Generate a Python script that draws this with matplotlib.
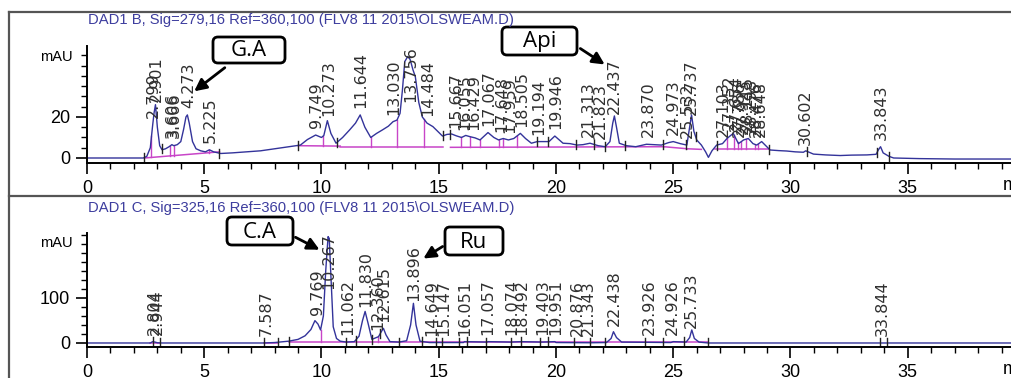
import numpy as np
import matplotlib.pyplot as plt
from matplotlib.patches import FancyBboxPatch, FancyArrowPatch
from matplotlib.lines import Line2D
from matplotlib.transforms import Affine2D

# ---- data ----
# top signal (DAD1 B, 279 nm): time (min), mAU
top_trace = np.array([
    [0, 0], [2.40, 0], [2.55, 0.8], [2.70, 5], [2.80, 16], [2.86, 22], [2.92, 26], [3.00, 15],
    [3.10, 6], [3.20, 4], [3.35, 4.5], [3.50, 5.5], [3.62, 6.5], [3.70, 6], [3.85, 6.5], [4.00, 8],
    [4.12, 14], [4.22, 20], [4.28, 21], [4.36, 17], [4.50, 8], [4.65, 4.5], [4.85, 3.5], [5.05, 3],
    [5.22, 4], [5.40, 3], [5.70, 2.2], [6.20, 2.5], [6.80, 3], [7.40, 3.5], [8.00, 4.5], [8.60, 5.5],
    [9.10, 6.3], [9.40, 9], [9.75, 11.2], [10.00, 10], [10.10, 11], [10.25, 18.2], [10.40, 12],
    [10.62, 7.2], [10.90, 10], [11.20, 13.7], [11.45, 17], [11.65, 21], [11.85, 15], [12.10, 10],
    [12.35, 12], [12.60, 13.7], [12.85, 15.5], [13.05, 17.7], [13.22, 18.5], [13.35, 21.8],
    [13.45, 33], [13.55, 47], [13.68, 49.5], [13.78, 48], [13.90, 43], [14.00, 39.7], [14.15, 27],
    [14.30, 20], [14.50, 17], [14.75, 15.3], [15.00, 12.5], [15.16, 10.7], [15.35, 11.5],
    [15.55, 11.7], [15.75, 10.8], [15.97, 10], [16.15, 11], [16.33, 10.4], [16.55, 9.8],
    [16.76, 8.8], [17.10, 12.4], [17.35, 10], [17.55, 8.8], [17.75, 9.5], [17.97, 8.8],
    [18.20, 9.5], [18.48, 12], [18.70, 9.5], [18.95, 7.2], [19.20, 8], [19.46, 8], [19.70, 8],
    [19.95, 10.7], [20.30, 7.2], [20.60, 7], [20.90, 6.3], [21.15, 6.5], [21.45, 7.2], [21.80, 6],
    [22.10, 5.5], [22.30, 8], [22.42, 17], [22.49, 20.5], [22.58, 15], [22.70, 7.2], [23.00, 6],
    [23.40, 5.5], [23.86, 6.7], [24.20, 6.5], [24.50, 6.3], [24.80, 7.5], [25.00, 8], [25.30, 7],
    [25.58, 6.3], [25.70, 15], [25.78, 21], [25.88, 13], [26.00, 8.8], [26.20, 6.3], [26.38, 3],
    [26.50, 0.3], [26.65, 3.5], [26.85, 6.3], [27.10, 7], [27.30, 9.6], [27.56, 12], [27.78, 7],
    [28.00, 8.8], [28.20, 9.5], [28.40, 7], [28.56, 6.3], [28.77, 8], [29.13, 3.9], [29.50, 3.6],
    [29.84, 3.4], [30.20, 3], [30.55, 2.8], [30.65, 3.5], [30.98, 1.9], [31.50, 1.5], [32.12, 1.2],
    [32.60, 1.4], [33.26, 1.5], [33.65, 1.8], [33.75, 4], [33.84, 5.5], [33.95, 2.5], [34.20, 0.8],
    [34.40, 0], [35.50, -0.3], [37.00, -0.5], [39.50, -0.5]])

# bottom signal (DAD1 C, 325 nm)
bot_trace = np.array([
    [0, 0], [2.70, 0], [2.80, 3], [2.90, 2], [3.00, 0.5], [3.20, 0], [7.50, 0], [8.00, 1],
    [8.60, 4], [9.00, 8], [9.30, 16], [9.55, 30], [9.72, 49.6], [9.85, 42], [9.96, 29], [10.08, 60],
    [10.18, 160], [10.28, 236], [10.33, 232], [10.40, 150], [10.50, 36], [10.64, 10], [10.80, 4],
    [11.06, 2], [11.40, 3], [11.60, 15], [11.75, 50], [11.86, 70], [11.98, 45], [12.15, 8],
    [12.43, 14], [12.55, 25], [12.64, 32.6], [12.75, 18], [12.92, 3], [13.30, 2], [13.63, 5],
    [13.80, 40], [13.92, 88], [14.03, 40], [14.20, 4], [14.60, 1], [16.05, 1], [16.10, 3],
    [17.06, 2], [17.10, 3], [18.07, 2], [18.50, 3], [19.40, 2], [19.95, 3], [20.00, 1],
    [21.50, 0.5], [22.15, 1], [22.35, 10], [22.45, 25], [22.58, 12], [22.80, 2], [24.90, 1],
    [25.00, 3], [25.55, 2], [25.70, 12], [25.79, 29], [25.90, 10], [26.10, 2], [26.50, 0],
    [39.50, 0]])

top_labels = ['2.799', '2.901', '3.606', '3.666', '4.273', '5.225', '9.749', '10.273', '11.644',
              '13.030', '13.756', '14.484', '15.667', '16.055', '16.429', '17.067', '17.648',
              '17.959', '18.505', '19.194', '19.946', '21.313', '21.823', '22.437', '23.870',
              '24.973', '25.532', '25.737', '27.103', '27.352', '27.654', '27.786', '27.923',
              '28.115', '28.298', '28.476', '28.648', '30.602', '33.843']
bot_labels = ['2.804', '2.944', '7.587', '9.769', '10.267', '11.062', '11.830', '12.360', '12.615',
              '13.896', '14.649', '15.147', '16.051', '17.057', '18.074', '18.492', '19.403',
              '19.951', '20.876', '21.343', '22.438', '23.926', '24.926', '25.733', '33.844']

# integration baselines, drop lines and event marks
top_base = [[(2.45, 0), (5.65, 3.0)], [(9.0, 6.0), (10.8, 5.8)], [(10.8, 5.2), (15.2, 5.2)],
            [(15.5, 5.2), (24.6, 5.5)], [(24.6, 5.5), (25.6, 4.5)], [(25.6, 4.5), (26.2, 4.2)],
            [(26.8, 4.2), (29.1, 4.2)]]
top_drops = [2.75, 3.55, 3.70, 5.22, 10.05, 12.10, 13.22, 14.36, 15.97, 16.33, 16.76, 17.55,
             17.76, 18.33, 27.30, 27.60, 27.75, 27.90, 28.10, 28.50, 28.62]
top_events = [2.45, 3.18, 5.65, 9.0, 10.64, 15.20, 15.50, 19.20, 19.65, 20.85, 21.60, 22.10,
              22.95, 24.55, 25.55, 25.95, 26.85, 29.10, 30.70, 33.70, 34.20]
bot_base = [[(2.70, 0.5), (3.10, 0.5)], [(7.55, 0.5), (8.15, 0.5)], [(8.6, 3.0), (26.5, 3.0)]]
bot_drops = [9.96, 12.43]
bot_events = [2.80, 3.10, 7.55, 8.15, 8.60, 11.06, 11.45, 12.15, 12.50, 13.30, 14.30, 14.90, 15.15,
              15.85, 16.20, 17.00, 18.10, 18.50, 19.30, 19.65, 20.75, 21.45, 22.10, 23.80, 24.55,
              25.45, 26.50, 33.80, 34.10]

x_major = [0, 5, 10, 15, 20, 25, 30, 35]
top_yticks = [0, 20]
bot_yticks = [0, 100]

W, H = 1011, 378
narrow = ['Liberation Sans', 'DejaVu Sans']
trace_col = '#33339a'
pink = '#c845c8'

fig = plt.figure(figsize=(W / 100, H / 100), dpi=100)
px = Affine2D().scale(1.0 / W, -1.0 / H).translate(0, 1) + fig.transFigure

# panel frames
for xs, ys in [([9, W], [12, 12]), ([9, 9], [12, H]), ([9, W], [196, 196])]:
    fig.add_artist(Line2D(xs, ys, transform=px, color='#555555', lw=1.6))


def panel(ax_px, trace, labels, base, drops, events, ylim, yticks, yminor, title, title_y, mau_y, scale):
    left, bottom, top = ax_px
    ax = fig.add_axes([left / W, (H - bottom) / H, (W - left) / W, (bottom - top) / H])
    ax.set_facecolor('none')
    ax.set_xlim(0, (W - left) / 23.45)
    ax.set_ylim(*ylim)
    for s in ['top', 'right']:
        ax.spines[s].set_visible(False)
    for s in ['left', 'bottom']:
        ax.spines[s].set_linewidth(1.4)
    ax.set_xticks(x_major)
    ax.set_xticks(range(0, 40), minor=True)
    ax.set_yticks(yticks)
    ax.set_yticks(yminor, minor=True)
    ax.tick_params(which='major', length=8, width=1.2, labelsize=13, pad=4)
    ax.tick_params(which='minor', length=4.5, width=1.0)
    for lab in ax.get_xticklabels() + ax.get_yticklabels():
        lab.set_family(narrow)

    tt, vv = trace[:, 0], trace[:, 1]
    for seg in base:
        ax.plot([seg[0][0], seg[1][0]], [seg[0][1], seg[1][1]], color=pink, lw=1.1)
    for d in drops:
        b = np.interp(d, [p[0] for s in base for p in s], [p[1] for s in base for p in s])
        ax.plot([d, d], [b, np.interp(d, tt, vv)], color=pink, lw=1.0)
    ax.plot(tt, vv, color=trace_col, lw=1.0)
    for e in events:
        y = np.interp(e, tt, vv)
        ax.plot([e, e], [y - 2.2 * scale, y + 2.2 * scale], color='#222222', lw=1.0)

    # retention time labels
    off, length = 7 * scale / 2.05, 56 * scale / 2.05
    for lab in labels:
        rt = float(lab)
        y = min(np.interp(rt, tt, vv) + off, ylim[1] - length)
        ax.text(rt + 0.05, y, lab, rotation=90, ha='center', va='bottom', fontsize=11.5,
                color='#303030')

    fig.text(88, title_y, title, transform=px, ha='left', va='center', fontsize=10.6,
             color='#3d3d9e', family=narrow)
    fig.text(73, mau_y, 'mAU', transform=px, ha='right', va='center', fontsize=10.5, family=narrow)
    fig.text(1003, bottom + 22, 'min', transform=px, ha='left', va='center', fontsize=13,
             family=narrow)
    return ax


panel((87, 163, 46), top_trace, top_labels, top_base, top_drops, top_events, (-2.44, 54.6),
      top_yticks, np.arange(0, 55, 5), 'DAD1 B, Sig=279,16 Ref=360,100 (FLV8 11 2015\\OLSWEAM.D)',
      20, 57, 1.0)
panel((87, 347, 233), bot_trace, bot_labels, bot_base, bot_drops, bot_events, (-8.9, 244),
      bot_yticks, np.arange(0, 241, 20), 'DAD1 C, Sig=325,16 Ref=360,100 (FLV8 11 2015\\OLSWEAM.D)',
      208, 243, 2.05 / 0.45)

# callout boxes with arrows
callouts = [('G.A', (213, 37, 285, 63), (227, 66), (192, 93)),
            ('Api', (502, 27, 577, 55), (578, 47), (607, 66)),
            ('C.A', (227, 217, 293, 245), (293, 236), (322, 251)),
            ('Ru', (445, 227, 503, 255), (445, 245), (421, 260))]
for name, (x0, y0, x1, y1), tail, head in callouts:
    fig.add_artist(FancyBboxPatch((x0, y0), x1 - x0, y1 - y0, boxstyle='round,pad=0,rounding_size=5',
                                  transform=px, fc='white', ec='black', lw=2))
    fig.text((x0 + x1) / 2, (y0 + y1) / 2 + 1, name, transform=px, ha='center', va='center',
             fontsize=16, family=['Open Sans', 'DejaVu Sans'])
    fig.add_artist(FancyArrowPatch(tail, head, transform=px, arrowstyle='-|>', mutation_scale=18,
                                   color='black', lw=2))

fig.savefig('out.png', dpi=100)
